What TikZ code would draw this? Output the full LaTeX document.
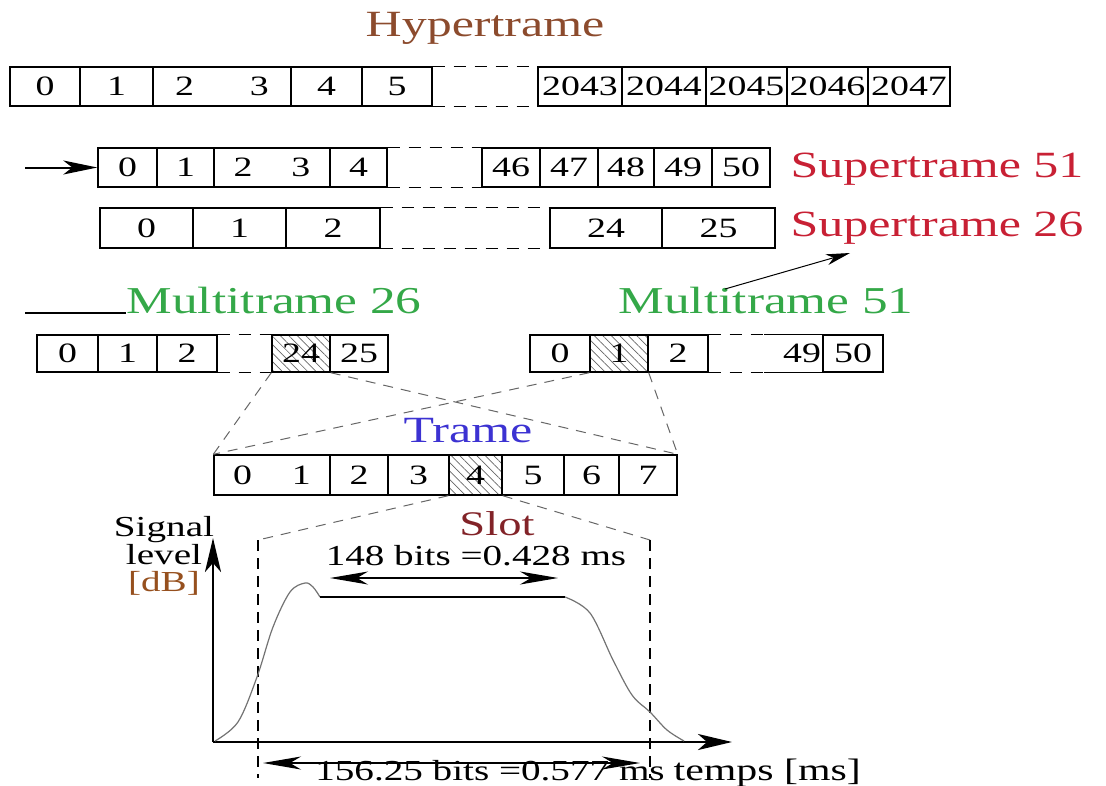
\documentclass[tikz,border=0pt]{standalone}
\usepackage{fontspec}
\setmainfont{Liberation Serif}[FakeStretch=1.35]
\usepackage{tikz}
\usetikzlibrary{arrows.meta, patterns.meta, backgrounds}

\definecolor{hypercol}{RGB}{140,75,45}
\definecolor{supercol}{RGB}{200,32,52}
\definecolor{multicol}{RGB}{52,168,72}
\definecolor{tramecol}{RGB}{60,50,210}
\definecolor{slotcol}{RGB}{130,35,40}
\definecolor{dbcol}{RGB}{150,80,30}

\begin{document}
\begin{tikzpicture}[x=1pt, y=-1pt, line width=1.4pt,
  every node/.style={font=\fontsize{28}{30}\selectfont, inner sep=0pt},
  cell/.style={draw, line width=1.4pt},
  gap/.style={dash pattern=on 12pt off 9pt},
  zoomline/.style={draw=black!60, line width=1pt, dash pattern=on 10pt off 8pt},
  title/.style={font=\fontsize{37}{40}\selectfont},
  lbltext/.style={font=\fontsize{29}{27.5}\selectfont},
  hatch/.style={pattern={Lines[angle=-45,distance=6pt,line width=0.7pt]}, pattern color=black!60},
  axis/.style={line width=2.8pt, -{Stealth[length=34pt,width=16pt,inset=9pt]}},
  dim/.style={line width=1.3pt, {Stealth[length=38pt,width=13pt,inset=11pt]}-{Stealth[length=38pt,width=13pt,inset=11pt]}}]

  \useasboundingbox (0,0) rectangle (1106,785);

  % --- Hypertrame ----------------------------------------------------
  \node[title, text=hypercol, anchor=base] (hyper) at (485,36) {Hypertrame};
  \foreach \n/\a/\b/\t in {h0/10/80/0, h1/80/153/1, h2/153/291/{2\hspace{56pt}3},
      h4/291/362/4, h5/362/432/5, h2043/538/622/2043, h2044/622/706/2044,
      h2045/706/787/2045, h2046/787/868/2046, h2047/868/950/2047}
    \node[cell, minimum width=\b-\a, minimum height=39] (\n) at ({(\a+\b)/2},86.5) {\t};
  \draw[gap] (h5.north east) -- (h2043.north west);
  \draw[gap] (h5.south east) -- (h2043.south west);

  % --- Supertrame 51 -------------------------------------------------
  \foreach \n/\a/\b/\t in {s0/98/157/0, s1/157/214/1, s2/214/330/{2\hspace{39pt}3},
      s4/330/387/4, s46/482/540/46, s47/540/598/47, s48/598/654/48,
      s49/654/712/49, s50/712/770/50}
    \node[cell, minimum width=\b-\a, minimum height=39] (\n) at ({(\a+\b)/2},167.5) {\t};
  \draw[gap] (s4.north east) -- (s46.north west);
  \draw[gap] (s4.south east) -- (s46.south west);
  \coordinate (in) at (25,167.5);
  \draw[line width=2pt, -{Stealth[length=34pt,width=14pt,inset=9pt]}] (in) -- (s0.west);
  \node[title, text=supercol, anchor=base west] (super51) at (790,177) {Supertrame 51};

  % --- Supertrame 26 -------------------------------------------------
  \foreach \n/\a/\b/\t in {t0/100/193/0, t1/193/286/1, t2/286/380/2,
      t24/550/662/24, t25/662/775/25}
    \node[cell, minimum width=\b-\a, minimum height=40] (\n) at ({(\a+\b)/2},228) {\t};
  \draw[gap] (t2.north east) -- (t24.north west);
  \draw[gap] (t2.south east) -- (t24.south west);
  \node[title, text=supercol, anchor=base west] (super26) at (790,236) {Supertrame 26};

  % --- Multitrames ---------------------------------------------------
  \node[title, font=\fontsize{38}{40}\selectfont, text=multicol, anchor=base west] (mt26) at (126,313) {Multitrame 26};
  \node[title, font=\fontsize{38}{40}\selectfont, text=multicol, anchor=base west] (mt51) at (618,313) {Multitrame 51};
  \coordinate (mtline) at (25,313);
  \draw[line width=1.2pt] (mtline) -- (mt26.base west);
  \coordinate (arrs) at (725,289);
  \coordinate (arre) at (850,253);
  \draw[line width=1pt, -{Stealth[length=24pt,width=11pt,inset=7pt]}] (arrs) -- (arre);

  \foreach \n/\a/\b/\t in {m0/37/98/0, m1/98/157/1, m2/157/217/2,
      m24/272/330/24, m25/330/388/25}
    \node[cell, minimum width=\b-\a, minimum height=37] (\n) at ({(\a+\b)/2},353.5) {\t};
  \draw[gap] (m2.north east) -- (m24.north west);
  \draw[gap] (m2.south east) -- (m24.south west);

  \foreach \n/\a/\b/\t in {n0/530/590/0, n1/590/648/1, n2/648/708/2, n50/823/883/50}
    \node[cell, minimum width=\b-\a, minimum height=37] (\n) at ({(\a+\b)/2},353.5) {\t};
  \node[minimum width=58, minimum height=37, text width=54pt, align=right] (n49) at (794,353.5) {49};
  \draw (n49.north west) -- (n49.north east) (n49.south west) -- (n49.south east);
  \draw[gap] (n2.north east) -- (n49.north west);
  \draw[gap] (n2.south east) -- (n49.south west);

  % --- Trame ---------------------------------------------------------
  \node[title, text=tramecol, anchor=base] (trame) at (468,442) {Trame};
  \foreach \n/\a/\b/\t in {f01/214/330/{0\hspace{40pt}1}, f2/330/388/2, f3/388/449/3,
      f4/449/502/4, f5/502/564/5, f6/564/619/6, f7/619/677/7}
    \node[cell, minimum width=\b-\a, minimum height=40] (\n) at ({(\a+\b)/2},475) {\t};

  % hatched slots
  \begin{scope}[on background layer]
    \foreach \c in {m24, n1, f4}
      \fill[hatch] (\c.north west) rectangle (\c.south east);
  \end{scope}

  % zoom lines
  \draw[zoomline] (m24.south west) -- (f01.north west);
  \draw[zoomline] (m24.south east) -- (f7.north east);
  \draw[zoomline] (n1.south west) -- (f01.north west);
  \draw[zoomline] (n1.south east) -- (f7.north east);

  % --- Slot ----------------------------------------------------------
  \node[title, font=\fontsize{34.5}{38}\selectfont, text=slotcol, anchor=base] (slot) at (497,535) {Slot};
  \coordinate (slotl) at (258,540);
  \coordinate (slotr) at (650,540);
  \coordinate (slotlb) at (258,778);
  \coordinate (slotrb) at (650,778);
  \draw[zoomline] (f4.south west) -- (slotl);
  \draw[zoomline] (f4.south east) -- (slotr);
  \draw[line width=1.6pt, dash pattern=on 11pt off 7pt] (slotl) -- (slotlb);
  \draw[line width=1.6pt, dash pattern=on 11pt off 7pt] (slotr) -- (slotrb);

  % Axes
  \coordinate (o) at (213,742);
  \coordinate (ytop) at (213,538);
  \coordinate (xend) at (732,742);
  \draw[axis] (o) -- (ytop);
  \draw[axis] (o) -- (xend);
  \node[lbltext, align=center] (sig) at (164,556) {Signal\\level\\\textcolor{dbcol}{[dB]}};
  \node[lbltext, font=\fontsize{31}{30}\selectfont, anchor=base west] (temps) at (673,780) {temps [ms]};

  % Signal
  \draw[black!55, line width=1.2pt] plot[smooth, tension=0.55] coordinates
    {(215,741) (238,722) (257,677) (273,627) (290,592) (305,583) (313,587) (320,597)};
  \draw[line width=1.2pt] (320,597) -- (565,597);
  \draw[black!55, line width=1.2pt] plot[smooth, tension=0.55] coordinates
    {(565,597) (590,613) (613,660) (632,695) (650,712) (667,730) (684,741)};

  % Durations
  \node[lbltext, anchor=base] (d148) at (476,565) {148 bits =0.428 ms};
  \coordinate (d148l) at (330,578);
  \coordinate (d148r) at (558,578);
  \draw[dim] (d148l) -- (d148r);
  \node[lbltext, anchor=base] (d156) at (490,780) {156.25 bits =0.577 ms};
  \coordinate (d156l) at (263,763);
  \coordinate (d156r) at (640,763);
  \draw[dim] (d156l) -- (d156r);
\end{tikzpicture}
\end{document}
